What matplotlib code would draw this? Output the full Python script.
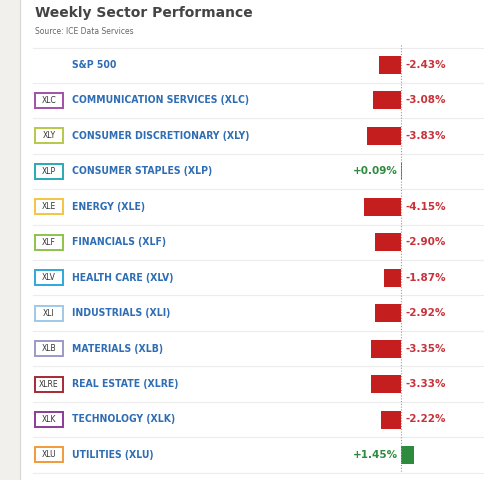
import matplotlib
matplotlib.use("Agg")
import matplotlib.pyplot as plt
from matplotlib.patches import Rectangle

names = ["S&P 500", "COMMUNICATION SERVICES (XLC)", "CONSUMER DISCRETIONARY (XLY)",
         "CONSUMER STAPLES (XLP)", "ENERGY (XLE)", "FINANCIALS (XLF)",
         "HEALTH CARE (XLV)", "INDUSTRIALS (XLI)", "MATERIALS (XLB)",
         "REAL ESTATE (XLRE)", "TECHNOLOGY (XLK)", "UTILITIES (XLU)"]
tickers = ["", "XLC", "XLY", "XLP", "XLE", "XLF", "XLV", "XLI", "XLB", "XLRE", "XLK", "XLU"]
badge_colors = ["", "#a44fa8", "#b5c94a", "#2aa9b4", "#f5c443", "#8dc24c", "#2fa8dc",
                "#9fc9e8", "#9a9ac8", "#a52a35", "#8e3a9a", "#f39a3a"]
changes = [-2.43, -3.08, -3.83, 0.09, -4.15, -2.90, -1.87, -2.92, -3.35, -3.33, -2.22, 1.45]

W, H = 484, 480
fig = plt.figure(figsize=(W / 100, H / 100), dpi=100)
bg = fig.add_axes([0, 0, 1, 1])
bg.set_xlim(0, W)
bg.set_ylim(H, 0)
bg.axis("off")
bg.add_patch(Rectangle((0, 0), 20, H, color="#f1f0ec"))
bg.plot([20, 20], [0, H], color="#d8d8d8", lw=0.8)

bg.text(35, 13, "Weekly Sector Performance", fontsize=10, fontweight="bold",
        color="#444444", va="center")
bg.text(35, 32, "Source: ICE Data Services", fontsize=5.5, color="#666666", va="center")

row0, step = 65, 35.45
ys = [row0 + step * i for i in range(len(names))]
for y in [48] + [y + step / 2 for y in ys]:
    bg.plot([33, W], [y, y], color="#ececec", lw=0.8)

for y, name, tk, bc in zip(ys, names, tickers, badge_colors):
    bg.text(72, y, name, fontsize=7.5, fontweight="bold", color="#2e6db4",
            va="center", fontstretch="condensed")
    if tk:
        bg.add_patch(Rectangle((35, y - 7.5), 28, 15, fill=False, ec=bc, lw=1.4))
        bg.text(49, y, tk, fontsize=5.5, color="#333333", ha="center", va="center")

# bars: zero at x=401 px, ~9 px per percent
ppu = 9.0
x0 = 401
ax = fig.add_axes([0, 0, 1, 1], facecolor="none")
ax.set_xlim(-x0 / ppu, (W - x0) / ppu)
ax.set_ylim(H, 0)
ax.axis("off")
ax.plot([0, 0], [45, 472], color="#999999", lw=0.8, ls=(0, (1, 1.5)))
cols = ["#c41e1e" if v < 0 else "#2e8b3e" for v in changes]
ax.barh(ys, changes, height=18, color=cols)
for y, v in zip(ys, changes):
    if v < 0:
        ax.text(0.5, y, f"{v:.2f}%", color="#c8323a", fontsize=7.5, fontweight="bold",
                va="center", ha="left")
    else:
        ax.text(-0.35, y, f"+{v:.2f}%", color="#2e8b3e", fontsize=7.5, fontweight="bold",
                va="center", ha="right")

fig.savefig("out.png", dpi=100)
